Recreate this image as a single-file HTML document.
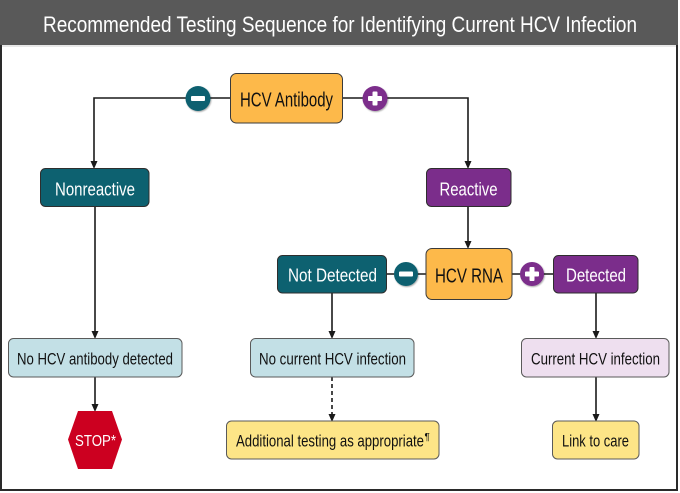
<!DOCTYPE html>
<html>
<head>
<meta charset="utf-8">
<style>
html,body{margin:0;padding:0;background:#fff;}
svg{display:block;}
text{font-family:"Liberation Sans",Arial,sans-serif;}
</style>
</head>
<body>
<svg width="680" height="493" viewBox="0 0 680 493" xmlns="http://www.w3.org/2000/svg">
<defs>
<filter id="sh" x="-30%" y="-30%" width="160%" height="160%">
<feDropShadow dx="0.8" dy="1" stdDeviation="0.8" flood-color="#000" flood-opacity="0.35"/>
</filter>
</defs>
<!-- frame -->
<rect x="1" y="1" width="676" height="489" fill="#fff" stroke="#2a2a2a" stroke-width="2"/>
<rect x="0" y="0" width="678" height="45" fill="#595959"/>
<line x1="2" y1="46" x2="676" y2="46" stroke="#d0d0d0" stroke-width="1"/>
<text x="340" y="32" font-size="22" fill="#fff" text-anchor="middle" textLength="594" lengthAdjust="spacingAndGlyphs">Recommended Testing Sequence for Identifying Current HCV Infection</text>

<!-- connectors -->
<g stroke="#1a1a1a" stroke-width="1.6" fill="none">
<polyline points="94,162 94,98 468,98 468,162"/>
<line x1="468" y1="206" x2="468" y2="242"/>
<line x1="387" y1="274" x2="553" y2="274"/>
<line x1="95" y1="207" x2="95" y2="332"/>
<line x1="95" y1="377" x2="95" y2="405"/>
<line x1="332" y1="293" x2="332" y2="332"/>
<line x1="332" y1="377" x2="332" y2="415" stroke-dasharray="4,3"/>
<line x1="596" y1="293" x2="596" y2="332"/>
<line x1="596" y1="377" x2="596" y2="415"/>
</g>
<g fill="#1a1a1a">
<polygon points="90.5,161 97.5,161 94,169"/>
<polygon points="464.5,161 471.5,161 468,169"/>
<polygon points="464.5,241 471.5,241 468,249"/>
<polygon points="91.5,331 98.5,331 95,339"/>
<polygon points="91.5,404 98.5,404 95,412"/>
<polygon points="328.5,331 335.5,331 332,339"/>
<polygon points="328.5,414 335.5,414 332,422"/>
<polygon points="592.5,331 599.5,331 596,339"/>
<polygon points="592.5,414 599.5,414 596,422"/>
</g>

<!-- HCV Antibody -->
<rect x="230.5" y="73.5" width="112" height="49.5" rx="6" fill="#FDB94A" stroke="#3a3a3a" stroke-width="1"/>
<text x="286.5" y="106.5" font-size="20" fill="#111" text-anchor="middle" textLength="93" lengthAdjust="spacingAndGlyphs">HCV Antibody</text>

<!-- circles -->
<g filter="url(#sh)">
<circle cx="198" cy="98.5" r="12.5" fill="#0D6170"/>
<circle cx="375" cy="98.5" r="12.5" fill="#7B2D8B"/>
<circle cx="406" cy="274" r="12" fill="#0D6170"/>
<circle cx="532" cy="274" r="12" fill="#7B2D8B"/>
</g>
<g fill="#fff">
<rect x="191" y="96" width="14" height="5" rx="1"/>
<rect x="368" y="96" width="14" height="5" rx="1"/>
<rect x="372.5" y="91.5" width="5" height="14" rx="1"/>
<rect x="399" y="271.5" width="14" height="5" rx="1"/>
<rect x="525" y="271.5" width="14" height="5" rx="1"/>
<rect x="529.5" y="267" width="5" height="14" rx="1"/>
</g>

<!-- Nonreactive / Reactive -->
<rect x="40.5" y="168.5" width="108.5" height="38" rx="5" fill="#0D6170" stroke="#2e2e2e" stroke-width="1"/>
<text x="95" y="195.5" font-size="18" fill="#fff" text-anchor="middle" textLength="80" lengthAdjust="spacingAndGlyphs">Nonreactive</text>
<rect x="426.5" y="168.5" width="84.5" height="38" rx="5" fill="#7B2D8B" stroke="#2e2e2e" stroke-width="1"/>
<text x="468.5" y="195.5" font-size="18" fill="#fff" text-anchor="middle" textLength="58" lengthAdjust="spacingAndGlyphs">Reactive</text>

<!-- HCV RNA row -->
<rect x="277.5" y="255.5" width="109" height="37.5" rx="5" fill="#0D6170" stroke="#2e2e2e" stroke-width="1"/>
<text x="332.5" y="281.5" font-size="18" fill="#fff" text-anchor="middle" textLength="89" lengthAdjust="spacingAndGlyphs">Not Detected</text>
<rect x="426" y="248.5" width="86" height="51" rx="6" fill="#FDB94A" stroke="#3a3a3a" stroke-width="1"/>
<text x="469" y="282.5" font-size="20" fill="#111" text-anchor="middle" textLength="68" lengthAdjust="spacingAndGlyphs">HCV RNA</text>
<rect x="553.5" y="255.5" width="84.5" height="37.5" rx="5" fill="#7B2D8B" stroke="#2e2e2e" stroke-width="1"/>
<text x="596" y="281.5" font-size="18" fill="#fff" text-anchor="middle" textLength="60" lengthAdjust="spacingAndGlyphs">Detected</text>

<!-- result row -->
<rect x="8.5" y="338.5" width="173.5" height="38.5" rx="5" fill="#C3E0E6" stroke="#5a5a5a" stroke-width="1"/>
<text x="95" y="364.5" font-size="16.5" fill="#111" text-anchor="middle" textLength="156" lengthAdjust="spacingAndGlyphs">No HCV antibody detected</text>
<rect x="250.5" y="338.5" width="163.5" height="38.5" rx="5" fill="#C3E0E6" stroke="#5a5a5a" stroke-width="1"/>
<text x="332.5" y="364.5" font-size="16.5" fill="#111" text-anchor="middle" textLength="147" lengthAdjust="spacingAndGlyphs">No current HCV infection</text>
<rect x="521.5" y="338.5" width="147.5" height="38.5" rx="5" fill="#EEDFEF" stroke="#5a5a5a" stroke-width="1"/>
<text x="595.5" y="364.5" font-size="16.5" fill="#111" text-anchor="middle" textLength="129" lengthAdjust="spacingAndGlyphs">Current HCV infection</text>

<!-- bottom row -->
<polygon points="78,411 112,411 122,439.5 112,469 78,469 68,439.5" fill="#CC0020"/>
<text x="95.5" y="446" font-size="16" fill="#fff" text-anchor="middle" textLength="41" lengthAdjust="spacingAndGlyphs">STOP*</text>
<rect x="226.5" y="421" width="212.5" height="38" rx="5" fill="#FDE587" stroke="#5a5a5a" stroke-width="1"/>
<text x="236" y="446.5" font-size="16.5" fill="#111" textLength="188" lengthAdjust="spacingAndGlyphs">Additional testing as appropriate</text>
<text x="424.5" y="440" font-size="10" fill="#111">¶</text>
<rect x="552.5" y="421" width="86.5" height="38" rx="5" fill="#FDE587" stroke="#5a5a5a" stroke-width="1"/>
<text x="595.5" y="446.5" font-size="16.5" fill="#111" text-anchor="middle" textLength="67" lengthAdjust="spacingAndGlyphs">Link to care</text>
</svg>
</body>
</html>
